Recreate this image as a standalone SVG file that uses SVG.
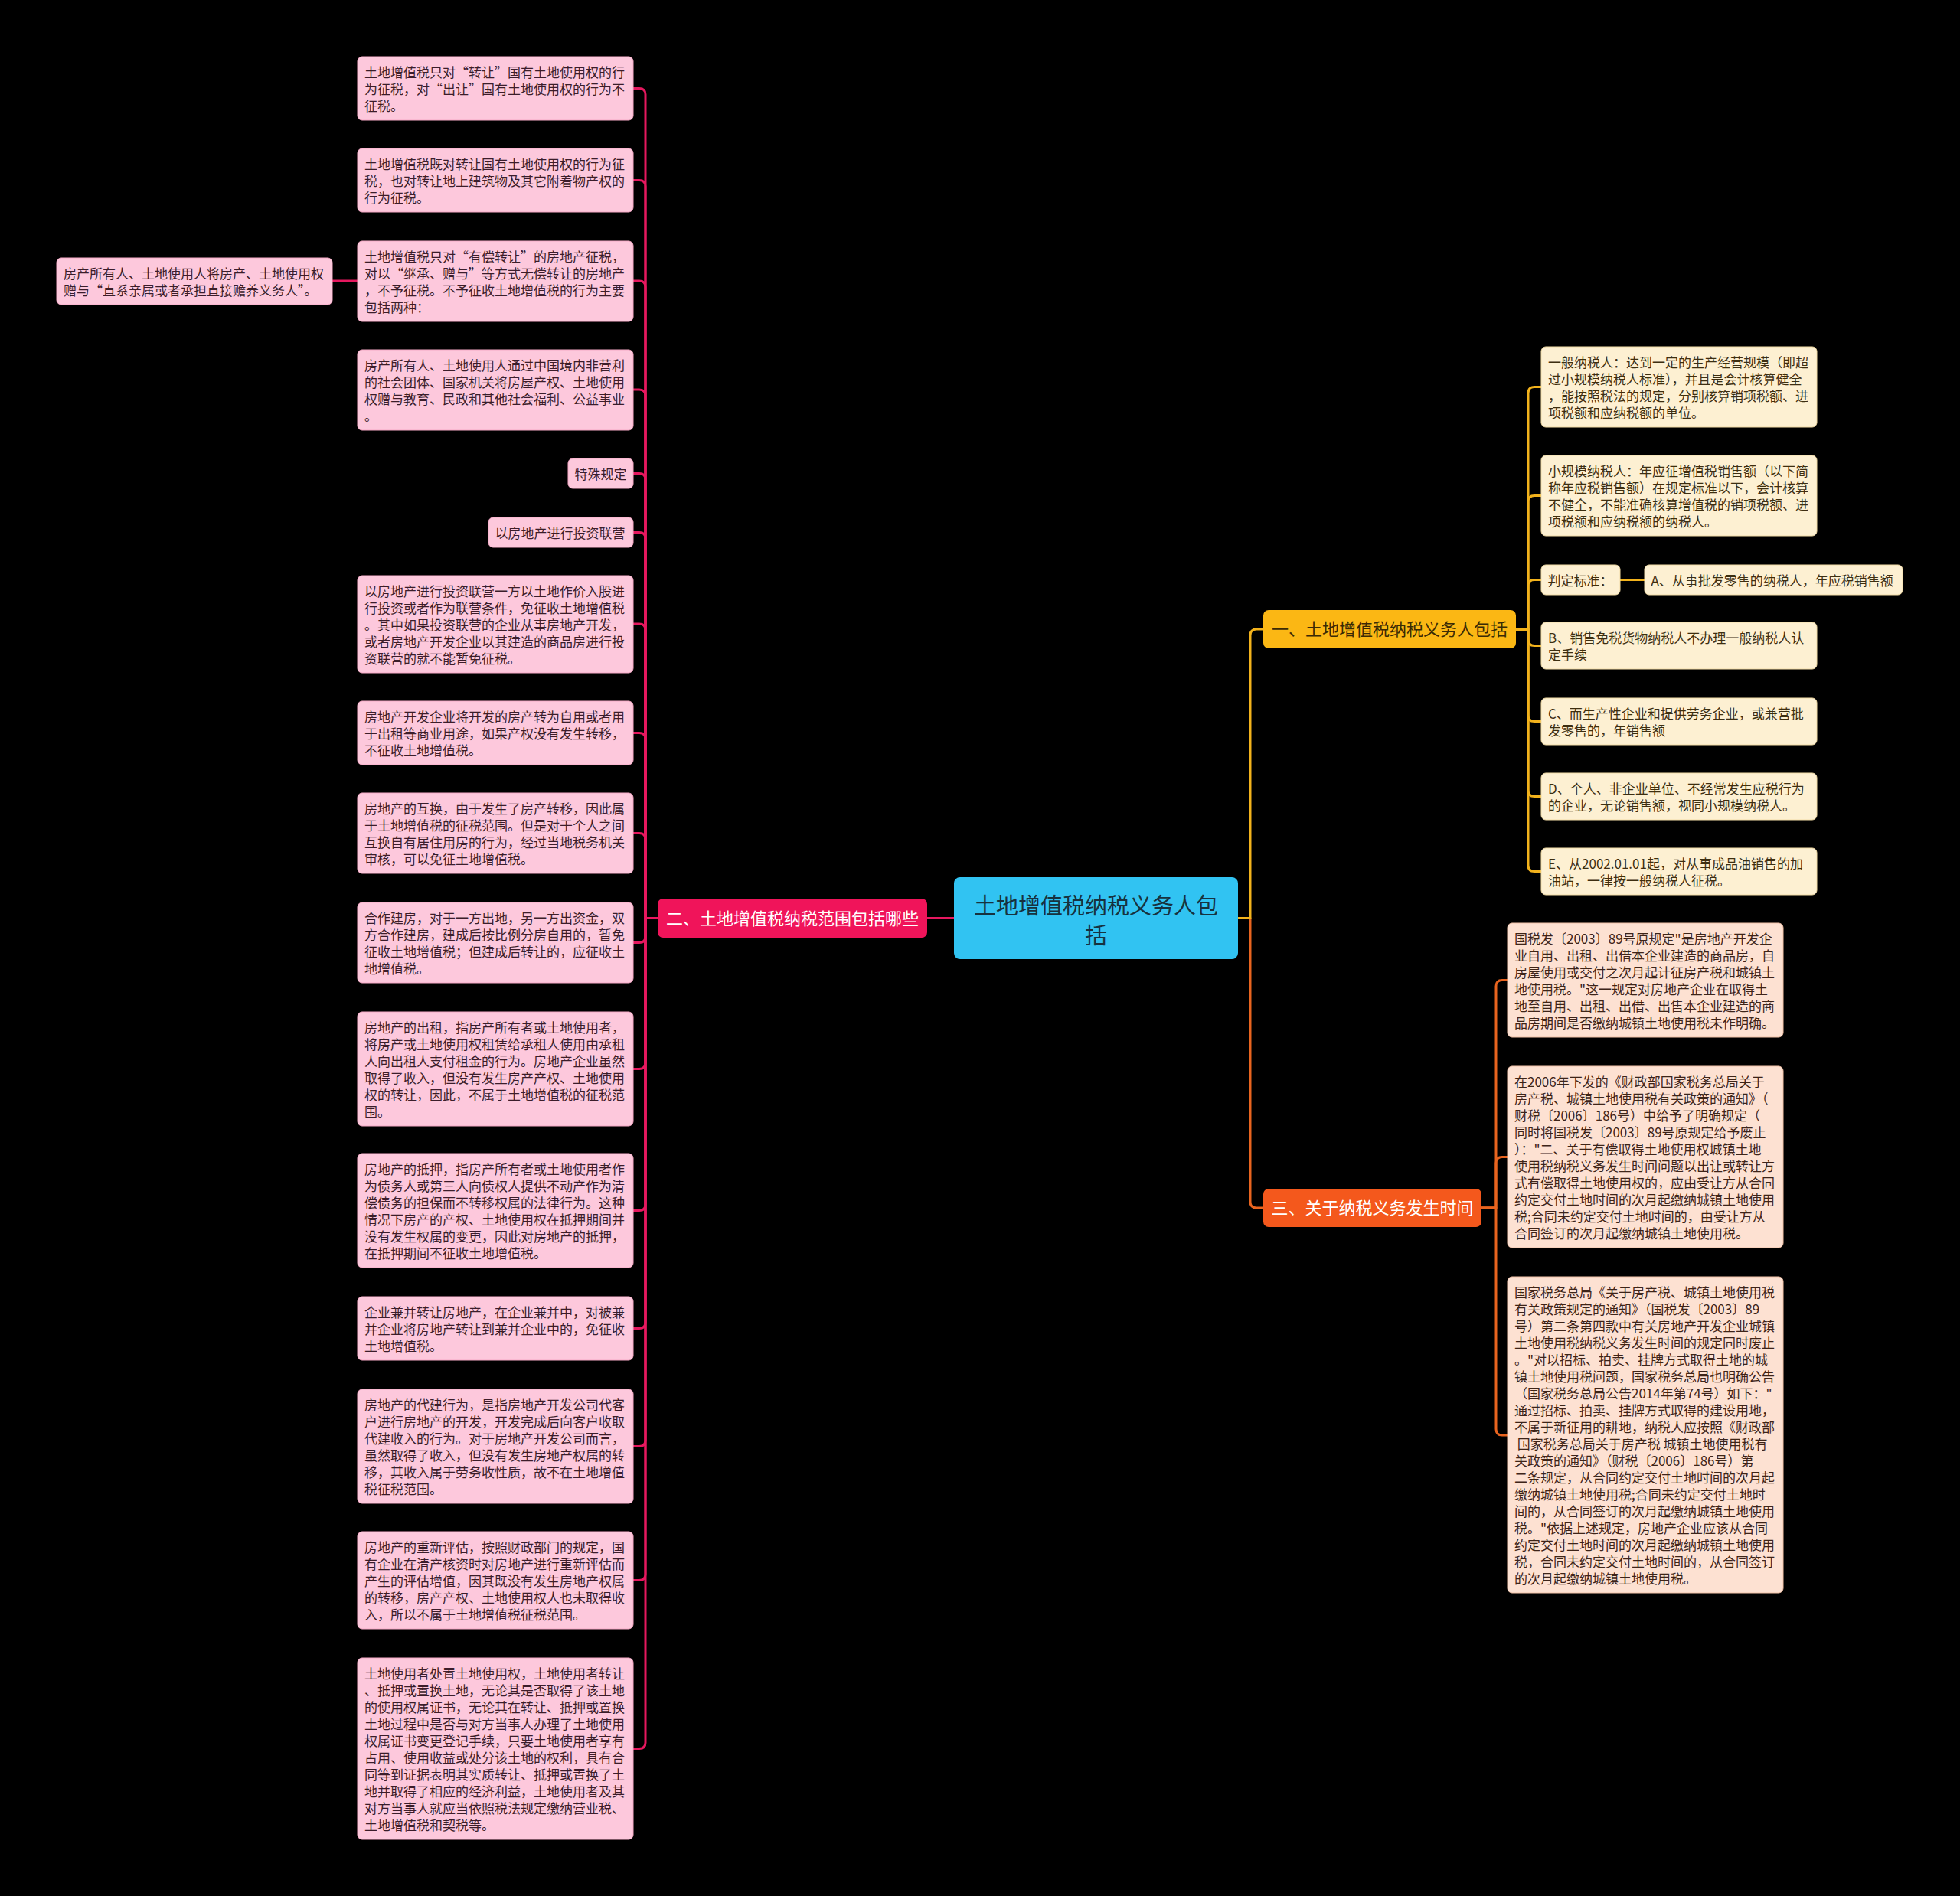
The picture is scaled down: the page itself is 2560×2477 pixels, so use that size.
<svg xmlns="http://www.w3.org/2000/svg" width="2560" height="2477" viewBox="0 0 2560 2477">
<style>
text{font-family:"Noto Sans CJK SC","Noto Sans",sans-serif;}
.c{fill:none;stroke-width:3;stroke-linecap:round;stroke-linejoin:round;}
.cp{stroke:#e6185f;}
.cy{stroke:#f2b21c;}
.co{stroke:#e8641f;}
.np{fill:#fdc8dc;stroke:#f6a9c6;stroke-width:1;}
.ny{fill:#fdf0d2;stroke:#f2dca6;stroke-width:1;}
.no{fill:#fde1d2;stroke:#f2c2a8;stroke-width:1;}
.t{font-size:17px;}
.tp{fill:#3b1d2a;}
.ty{fill:#3d2e10;}
.to{fill:#3d2418;}
.b{font-size:22px;text-anchor:middle;}
</style>
<rect x="0" y="0" width="2560" height="2477" fill="#000"/>
<g id="connectors">
<path class="c cp" d="M1246 1199.5H1211"/>
<path class="c cp" d="M467 367H434"/>
<path class="c cp" d="M859 1199.5H843V123.5Q843 115.5 835 115.5H827"/>
<path class="c cp" d="M859 1199.5H843V243.5Q843 235.5 835 235.5H827"/>
<path class="c cp" d="M859 1199.5H843V375Q843 367 835 367H827"/>
<path class="c cp" d="M859 1199.5H843V517Q843 509 835 509H827"/>
<path class="c cp" d="M859 1199.5H843V626.5Q843 618.5 835 618.5H827"/>
<path class="c cp" d="M859 1199.5H843V703.5Q843 695.5 835 695.5H827"/>
<path class="c cp" d="M859 1199.5H843V823Q843 815 835 815H827"/>
<path class="c cp" d="M859 1199.5H843V965.5Q843 957.5 835 957.5H827"/>
<path class="c cp" d="M859 1199.5H843V1096.5Q843 1088.5 835 1088.5H827"/>
<path class="c cp" d="M859 1199.5H843V1223.5Q843 1231.5 835 1231.5H827"/>
<path class="c cp" d="M859 1199.5H843V1388.5Q843 1396.5 835 1396.5H827"/>
<path class="c cp" d="M859 1199.5H843V1573.5Q843 1581.5 835 1581.5H827"/>
<path class="c cp" d="M859 1199.5H843V1727.5Q843 1735.5 835 1735.5H827"/>
<path class="c cp" d="M859 1199.5H843V1881.5Q843 1889.5 835 1889.5H827"/>
<path class="c cp" d="M859 1199.5H843V2056.5Q843 2064.5 835 2064.5H827"/>
<path class="c cp" d="M859 1199.5H843V2276.5Q843 2284.5 835 2284.5H827"/>
<path class="c co" d="M1617 1199.5H1633V1570Q1633 1578 1641 1578H1650"/>
<path class="c cy" d="M1617 1199.5H1633V830Q1633 822 1641 822H1650"/>
<path class="c cy" d="M1980 822H1996V513.5Q1996 505.5 2004 505.5H2013"/>
<path class="c cy" d="M1980 822H1996V655.5Q1996 647.5 2004 647.5H2013"/>
<path class="c cy" d="M1980 822H1996V765.5Q1996 757.5 2004 757.5H2013"/>
<path class="c cy" d="M1980 822H1996V835.5Q1996 843.5 2004 843.5H2013"/>
<path class="c cy" d="M1980 822H1996V934.5Q1996 942.5 2004 942.5H2013"/>
<path class="c cy" d="M1980 822H1996V1032.5Q1996 1040.5 2004 1040.5H2013"/>
<path class="c cy" d="M1980 822H1996V1130.5Q1996 1138.5 2004 1138.5H2013"/>
<path class="c cy" d="M2116 757.5H2148"/>
<path class="c co" d="M1935 1578H1954V1288.5Q1954 1280.5 1962 1280.5H1969"/>
<path class="c co" d="M1935 1578H1954V1519.5Q1954 1511.5 1962 1511.5H1969"/>
<path class="c co" d="M1935 1578H1954V1867Q1954 1875 1962 1875H1969"/>
</g>

<g id="center">
<rect x="1246" y="1146" width="371" height="107" rx="8" fill="#31c3f2"/>
<text x="1431.5" y="1194" font-size="29" text-anchor="middle" fill="#17323f"><tspan x="1431.5">土地增值税纳税义务人包</tspan><tspan x="1431.5" dy="39">括</tspan></text>
</g>

<g id="branch2">
<rect x="859" y="1174" width="352" height="51" rx="7" fill="#f0145a"/>
<text class="b" x="1035" y="1207.5" fill="#ffffff">二、土地增值税纳税范围包括哪些</text>
</g>
<g id="branch1">
<rect x="1650" y="797" width="330" height="50" rx="7" fill="#fbb714"/>
<text class="b" x="1815" y="830" fill="#3a2a05">一、土地增值税纳税义务人包括</text>
</g>
<g id="branch3">
<rect x="1650" y="1553" width="285" height="50" rx="7" fill="#f4581c"/>
<text class="b" x="1792.5" y="1586" fill="#ffffff">三、关于纳税义务发生时间</text>
</g>

<g id="n1"><rect class="np" x="467" y="74" width="360" height="83" rx="6"/>
<text class="t tp" x="476" y="100.5"><tspan x="476">土地增值税只对“转让”国有土地使用权的行</tspan><tspan x="476" dy="22">为征税，对“出让”国有土地使用权的行为不</tspan><tspan x="476" dy="22">征税。</tspan></text></g>
<g id="n2"><rect class="np" x="467" y="194" width="360" height="83" rx="6"/>
<text class="t tp" x="476" y="220.5"><tspan x="476">土地增值税既对转让国有土地使用权的行为征</tspan><tspan x="476" dy="22">税，也对转让地上建筑物及其它附着物产权的</tspan><tspan x="476" dy="22">行为征税。</tspan></text></g>
<g id="n3"><rect class="np" x="467" y="315" width="360" height="105" rx="6"/>
<text class="t tp" x="476" y="341.5"><tspan x="476">土地增值税只对“有偿转让”的房地产征税，</tspan><tspan x="476" dy="22">对以“继承、赠与”等方式无偿转让的房地产</tspan><tspan x="476" dy="22">，不予征税。不予征收土地增值税的行为主要</tspan><tspan x="476" dy="22">包括两种：</tspan></text></g>
<g id="n3a"><rect class="np" x="74" y="337" width="360" height="61" rx="6"/>
<text class="t tp" x="83" y="363.5"><tspan x="83">房产所有人、土地使用人将房产、土地使用权</tspan><tspan x="83" dy="22">赠与“直系亲属或者承担直接赡养义务人”。</tspan></text></g>
<g id="n4"><rect class="np" x="467" y="457" width="360" height="105" rx="6"/>
<text class="t tp" x="476" y="483.5"><tspan x="476">房产所有人、土地使用人通过中国境内非营利</tspan><tspan x="476" dy="22">的社会团体、国家机关将房屋产权、土地使用</tspan><tspan x="476" dy="22">权赠与教育、民政和其他社会福利、公益事业</tspan><tspan x="476" dy="22">。</tspan></text></g>
<g id="n5"><rect class="np" x="742" y="599" width="85" height="39" rx="6"/>
<text class="t tp" x="750.5" y="625.5">特殊规定</text></g>
<g id="n6"><rect class="np" x="638" y="676" width="189" height="39" rx="6"/>
<text class="t tp" x="646.5" y="702.5">以房地产进行投资联营</text></g>
<g id="n7"><rect class="np" x="467" y="752" width="360" height="127" rx="6"/>
<text class="t tp" x="476" y="778.5"><tspan x="476">以房地产进行投资联营一方以土地作价入股进</tspan><tspan x="476" dy="22">行投资或者作为联营条件，免征收土地增值税</tspan><tspan x="476" dy="22">。其中如果投资联营的企业从事房地产开发，</tspan><tspan x="476" dy="22">或者房地产开发企业以其建造的商品房进行投</tspan><tspan x="476" dy="22">资联营的就不能暂免征税。</tspan></text></g>
<g id="n8"><rect class="np" x="467" y="916" width="360" height="83" rx="6"/>
<text class="t tp" x="476" y="942.5"><tspan x="476">房地产开发企业将开发的房产转为自用或者用</tspan><tspan x="476" dy="22">于出租等商业用途，如果产权没有发生转移，</tspan><tspan x="476" dy="22">不征收土地增值税。</tspan></text></g>
<g id="n9"><rect class="np" x="467" y="1036" width="360" height="105" rx="6"/>
<text class="t tp" x="476" y="1062.5"><tspan x="476">房地产的互换，由于发生了房产转移，因此属</tspan><tspan x="476" dy="22">于土地增值税的征税范围。但是对于个人之间</tspan><tspan x="476" dy="22">互换自有居住用房的行为，经过当地税务机关</tspan><tspan x="476" dy="22">审核，可以免征土地增值税。</tspan></text></g>
<g id="n10"><rect class="np" x="467" y="1179" width="360" height="105" rx="6"/>
<text class="t tp" x="476" y="1205.5"><tspan x="476">合作建房，对于一方出地，另一方出资金，双</tspan><tspan x="476" dy="22">方合作建房，建成后按比例分房自用的，暂免</tspan><tspan x="476" dy="22">征收土地增值税；但建成后转让的，应征收土</tspan><tspan x="476" dy="22">地增值税。</tspan></text></g>
<g id="n11"><rect class="np" x="467" y="1322" width="360" height="149" rx="6"/>
<text class="t tp" x="476" y="1348.5"><tspan x="476">房地产的出租，指房产所有者或土地使用者，</tspan><tspan x="476" dy="22">将房产或土地使用权租赁给承租人使用由承租</tspan><tspan x="476" dy="22">人向出租人支付租金的行为。房地产企业虽然</tspan><tspan x="476" dy="22">取得了收入，但没有发生房产产权、土地使用</tspan><tspan x="476" dy="22">权的转让，因此，不属于土地增值税的征税范</tspan><tspan x="476" dy="22">围。</tspan></text></g>
<g id="n12"><rect class="np" x="467" y="1507" width="360" height="149" rx="6"/>
<text class="t tp" x="476" y="1533.5"><tspan x="476">房地产的抵押，指房产所有者或土地使用者作</tspan><tspan x="476" dy="22">为债务人或第三人向债权人提供不动产作为清</tspan><tspan x="476" dy="22">偿债务的担保而不转移权属的法律行为。这种</tspan><tspan x="476" dy="22">情况下房产的产权、土地使用权在抵押期间并</tspan><tspan x="476" dy="22">没有发生权属的变更，因此对房地产的抵押，</tspan><tspan x="476" dy="22">在抵押期间不征收土地增值税。</tspan></text></g>
<g id="n13"><rect class="np" x="467" y="1694" width="360" height="83" rx="6"/>
<text class="t tp" x="476" y="1720.5"><tspan x="476">企业兼并转让房地产，在企业兼并中，对被兼</tspan><tspan x="476" dy="22">并企业将房地产转让到兼并企业中的，免征收</tspan><tspan x="476" dy="22">土地增值税。</tspan></text></g>
<g id="n14"><rect class="np" x="467" y="1815" width="360" height="149" rx="6"/>
<text class="t tp" x="476" y="1841.5"><tspan x="476">房地产的代建行为，是指房地产开发公司代客</tspan><tspan x="476" dy="22">户进行房地产的开发，开发完成后向客户收取</tspan><tspan x="476" dy="22">代建收入的行为。对于房地产开发公司而言，</tspan><tspan x="476" dy="22">虽然取得了收入，但没有发生房地产权属的转</tspan><tspan x="476" dy="22">移，其收入属于劳务收性质，故不在土地增值</tspan><tspan x="476" dy="22">税征税范围。</tspan></text></g>
<g id="n15"><rect class="np" x="467" y="2001" width="360" height="127" rx="6"/>
<text class="t tp" x="476" y="2027.5"><tspan x="476">房地产的重新评估，按照财政部门的规定，国</tspan><tspan x="476" dy="22">有企业在清产核资时对房地产进行重新评估而</tspan><tspan x="476" dy="22">产生的评估增值，因其既没有发生房地产权属</tspan><tspan x="476" dy="22">的转移，房产产权、土地使用权人也未取得收</tspan><tspan x="476" dy="22">入，所以不属于土地增值税征税范围。</tspan></text></g>
<g id="n16"><rect class="np" x="467" y="2166" width="360" height="237" rx="6"/>
<text class="t tp" x="476" y="2192.5"><tspan x="476">土地使用者处置土地使用权，土地使用者转让</tspan><tspan x="476" dy="22">、抵押或置换土地，无论其是否取得了该土地</tspan><tspan x="476" dy="22">的使用权属证书，无论其在转让、抵押或置换</tspan><tspan x="476" dy="22">土地过程中是否与对方当事人办理了土地使用</tspan><tspan x="476" dy="22">权属证书变更登记手续，只要土地使用者享有</tspan><tspan x="476" dy="22">占用、使用收益或处分该土地的权利，具有合</tspan><tspan x="476" dy="22">同等到证据表明其实质转让、抵押或置换了土</tspan><tspan x="476" dy="22">地并取得了相应的经济利益，土地使用者及其</tspan><tspan x="476" dy="22">对方当事人就应当依照税法规定缴纳营业税、</tspan><tspan x="476" dy="22">土地增值税和契税等。</tspan></text></g>

<g id="r1"><rect class="ny" x="2013" y="453" width="360" height="105" rx="6"/>
<text class="t ty" x="2022" y="479.5"><tspan x="2022">一般纳税人：达到一定的生产经营规模（即超</tspan><tspan x="2022" dy="22">过小规模纳税人标准），并且是会计核算健全</tspan><tspan x="2022" dy="22">，能按照税法的规定，分别核算销项税额、进</tspan><tspan x="2022" dy="22">项税额和应纳税额的单位。</tspan></text></g>
<g id="r2"><rect class="ny" x="2013" y="595" width="360" height="105" rx="6"/>
<text class="t ty" x="2022" y="621.5"><tspan x="2022">小规模纳税人：年应征增值税销售额（以下简</tspan><tspan x="2022" dy="22">称年应税销售额）在规定标准以下，会计核算</tspan><tspan x="2022" dy="22">不健全，不能准确核算增值税的销项税额、进</tspan><tspan x="2022" dy="22">项税额和应纳税额的纳税人。</tspan></text></g>
<g id="r3"><rect class="ny" x="2013" y="738" width="103" height="39" rx="6"/>
<text class="t ty" x="2021.5" y="764.5">判定标准：</text></g>
<g id="r3a"><rect class="ny" x="2148" y="738" width="337" height="39" rx="6"/>
<text class="t ty" x="2156.5" y="764.5">A、从事批发零售的纳税人，年应税销售额</text></g>
<g id="r4"><rect class="ny" x="2013" y="813" width="360" height="61" rx="6"/>
<text class="t ty" x="2022" y="839.5"><tspan x="2022">B、销售免税货物纳税人不办理一般纳税人认</tspan><tspan x="2022" dy="22">定手续</tspan></text></g>
<g id="r5"><rect class="ny" x="2013" y="912" width="360" height="61" rx="6"/>
<text class="t ty" x="2022" y="938.5"><tspan x="2022">C、而生产性企业和提供劳务企业，或兼营批</tspan><tspan x="2022" dy="22">发零售的，年销售额</tspan></text></g>
<g id="r6"><rect class="ny" x="2013" y="1010" width="360" height="61" rx="6"/>
<text class="t ty" x="2022" y="1036.5"><tspan x="2022">D、个人、非企业单位、不经常发生应税行为</tspan><tspan x="2022" dy="22">的企业，无论销售额，视同小规模纳税人。</tspan></text></g>
<g id="r7"><rect class="ny" x="2013" y="1108" width="360" height="61" rx="6"/>
<text class="t ty" x="2022" y="1134.5"><tspan x="2022">E、从2002.01.01起，对从事成品油销售的加</tspan><tspan x="2022" dy="22">油站，一律按一般纳税人征税。</tspan></text></g>

<g id="s1"><rect class="no" x="1969" y="1206" width="360" height="149" rx="6"/>
<text class="t to" x="1978" y="1232.5"><tspan x="1978">国税发〔2003〕89号原规定"是房地产开发企</tspan><tspan x="1978" dy="22">业自用、出租、出借本企业建造的商品房，自</tspan><tspan x="1978" dy="22">房屋使用或交付之次月起计征房产税和城镇土</tspan><tspan x="1978" dy="22">地使用税。"这一规定对房地产企业在取得土</tspan><tspan x="1978" dy="22">地至自用、出租、出借、出售本企业建造的商</tspan><tspan x="1978" dy="22">品房期间是否缴纳城镇土地使用税未作明确。</tspan></text></g>
<g id="s2"><rect class="no" x="1969" y="1393" width="360" height="237" rx="6"/>
<text class="t to" x="1978" y="1419.5"><tspan x="1978">在2006年下发的《财政部国家税务总局关于</tspan><tspan x="1978" dy="22">房产税、城镇土地使用税有关政策的通知》（</tspan><tspan x="1978" dy="22">财税〔2006〕186号）中给予了明确规定（</tspan><tspan x="1978" dy="22">同时将国税发〔2003〕89号原规定给予废止</tspan><tspan x="1978" dy="22">）："二、关于有偿取得土地使用权城镇土地</tspan><tspan x="1978" dy="22">使用税纳税义务发生时间问题以出让或转让方</tspan><tspan x="1978" dy="22">式有偿取得土地使用权的，应由受让方从合同</tspan><tspan x="1978" dy="22">约定交付土地时间的次月起缴纳城镇土地使用</tspan><tspan x="1978" dy="22">税;合同未约定交付土地时间的，由受让方从</tspan><tspan x="1978" dy="22">合同签订的次月起缴纳城镇土地使用税。</tspan></text></g>
<g id="s3"><rect class="no" x="1969" y="1668" width="360" height="413" rx="6"/>
<text class="t to" x="1978" y="1694.5"><tspan x="1978">国家税务总局《关于房产税、城镇土地使用税</tspan><tspan x="1978" dy="22">有关政策规定的通知》（国税发〔2003〕89</tspan><tspan x="1978" dy="22">号）第二条第四款中有关房地产开发企业城镇</tspan><tspan x="1978" dy="22">土地使用税纳税义务发生时间的规定同时废止</tspan><tspan x="1978" dy="22">。"对以招标、拍卖、挂牌方式取得土地的城</tspan><tspan x="1978" dy="22">镇土地使用税问题，国家税务总局也明确公告</tspan><tspan x="1978" dy="22">（国家税务总局公告2014年第74号）如下："</tspan><tspan x="1978" dy="22">通过招标、拍卖、挂牌方式取得的建设用地，</tspan><tspan x="1978" dy="22">不属于新征用的耕地，纳税人应按照《财政部</tspan><tspan x="1978" dy="22">&#160;国家税务总局关于房产税 城镇土地使用税有</tspan><tspan x="1978" dy="22">关政策的通知》（财税〔2006〕186号）第</tspan><tspan x="1978" dy="22">二条规定，从合同约定交付土地时间的次月起</tspan><tspan x="1978" dy="22">缴纳城镇土地使用税;合同未约定交付土地时</tspan><tspan x="1978" dy="22">间的，从合同签订的次月起缴纳城镇土地使用</tspan><tspan x="1978" dy="22">税。"依据上述规定，房地产企业应该从合同</tspan><tspan x="1978" dy="22">约定交付土地时间的次月起缴纳城镇土地使用</tspan><tspan x="1978" dy="22">税，合同未约定交付土地时间的，从合同签订</tspan><tspan x="1978" dy="22">的次月起缴纳城镇土地使用税。</tspan></text></g>
</svg>
